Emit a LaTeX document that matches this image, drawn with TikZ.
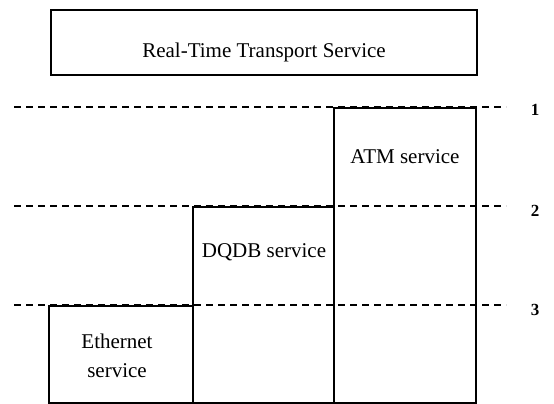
\documentclass[tikz,border=0pt]{standalone}
\usepackage{fontspec}
\setmainfont{Liberation Serif}
\begin{document}
\begin{tikzpicture}[x=1pt,y=-1pt,
  box/.style={draw, line width=1.9pt, inner sep=0pt, anchor=north west},
  levelline/.style={line width=1.6pt, dash pattern=on 7pt off 5pt},
  lbl/.style={font=\fontsize{21}{29}\selectfont, anchor=base, align=center},
  num/.style={font=\fontsize{17}{20}\selectfont\bfseries, anchor=base}]
\useasboundingbox (0,0) rectangle (554,404);

% level boundaries
\coordinate (l1a) at (14,107);  \coordinate (l1b) at (506,107);
\coordinate (l2a) at (14,206);  \coordinate (l2b) at (506,206);
\coordinate (l3a) at (14,305);  \coordinate (l3b) at (506,305);
\draw[levelline] (l1a) -- (l1b);
\draw[levelline] (l2a) -- (l2b);
\draw[levelline] (l3a) -- (l3b);
\node[num] (n1) at (535,115) {1};
\node[num] (n2) at (535,216) {2};
\node[num] (n3) at (535,315) {3};

% service boxes
\node[box, minimum width=426pt, minimum height=65pt] (rtts) at (50,9) {};
\node[lbl] (rttsl) at (264,58) {Real-Time Transport Service};

\node[box, minimum width=142pt, minimum height=295pt] (atm) at (333,107) {};
\node[lbl] (atml) at (405,163) {ATM service};

\node[box, minimum width=141pt, minimum height=196pt] (dqdb) at (192,206) {};
\node[lbl] (dqdbl) at (264,257) {DQDB service};

\node[box, minimum width=144pt, minimum height=97pt] (eth) at (48,305) {};
\node[lbl] (ethl) at (117,377) {Ethernet\\service};
\end{tikzpicture}
\end{document}
